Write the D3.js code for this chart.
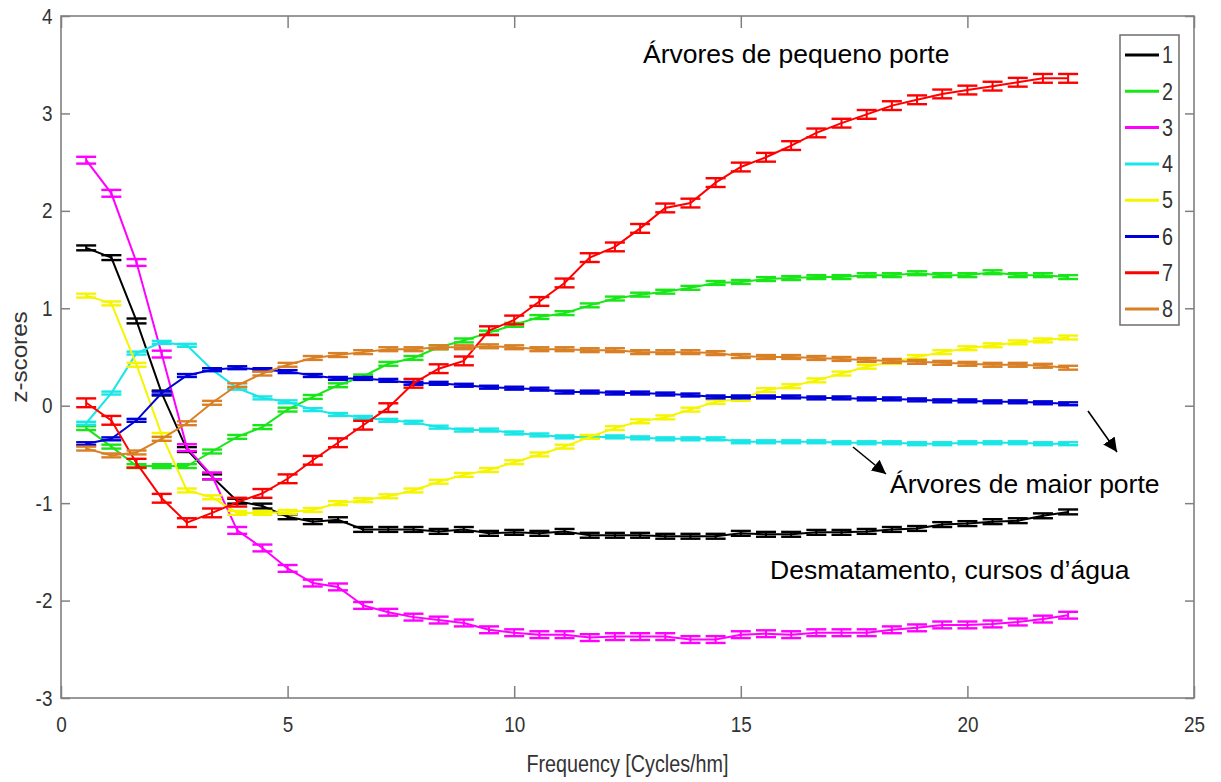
<!DOCTYPE html>
<html>
<head>
<meta charset="utf-8">
<script src="https://cdn.jsdelivr.net/npm/d3@7"></script>
<style>
  html, body { margin: 0; padding: 0; background: #fff; }
  svg { display: block; }
  text { font-family: "Liberation Sans", Arial, Helvetica, sans-serif; }
</style>
</head>
<body>
<svg id="chart" width="1221" height="782"></svg>
<script>
// ---------------- data ----------------
const pointIndex = d3.range(1, 41);            // 40 frequency samples
const frequencies = pointIndex.map(k => k / 1.8); // cycles/hm
const seriesNames = ["1", "2", "3", "4", "5", "6", "7", "8"];
const seriesColors = ["#000000", "#19e619", "#ff00ff", "#19e6e6", "#f5f500", "#0000d9", "#ff0000", "#d98026"];

const s1 = [1.62, 1.52, 0.87, 0.13, -0.45, -0.73, -0.98, -1.03, -1.14, -1.19, -1.17, -1.27, -1.27, -1.27, -1.29, -1.27, -1.31, -1.30, -1.31, -1.29, -1.33, -1.33, -1.33, -1.34, -1.34, -1.34, -1.31, -1.32, -1.32, -1.30, -1.30, -1.29, -1.27, -1.26, -1.22, -1.21, -1.19, -1.18, -1.13, -1.09];
const s2 = [-0.23, -0.42, -0.62, -0.62, -0.62, -0.47, -0.32, -0.22, -0.04, 0.09, 0.21, 0.30, 0.43, 0.49, 0.60, 0.67, 0.75, 0.83, 0.91, 0.95, 1.03, 1.10, 1.14, 1.17, 1.21, 1.26, 1.27, 1.30, 1.31, 1.32, 1.32, 1.34, 1.34, 1.36, 1.34, 1.34, 1.37, 1.34, 1.34, 1.32];
const s3 = [2.52, 2.18, 1.47, 0.53, -0.43, -0.72, -1.28, -1.46, -1.67, -1.82, -1.86, -2.05, -2.12, -2.17, -2.20, -2.23, -2.30, -2.33, -2.35, -2.35, -2.38, -2.37, -2.37, -2.37, -2.40, -2.40, -2.35, -2.34, -2.35, -2.33, -2.33, -2.33, -2.30, -2.28, -2.25, -2.25, -2.24, -2.22, -2.19, -2.15];
const s4 = [-0.18, 0.13, 0.54, 0.65, 0.62, 0.37, 0.18, 0.08, 0.04, -0.04, -0.09, -0.12, -0.15, -0.17, -0.22, -0.25, -0.25, -0.28, -0.30, -0.32, -0.32, -0.32, -0.33, -0.34, -0.34, -0.34, -0.37, -0.37, -0.37, -0.37, -0.38, -0.38, -0.38, -0.39, -0.39, -0.38, -0.38, -0.38, -0.39, -0.39];
const s5 = [1.13, 1.05, 0.42, -0.30, -0.87, -0.94, -1.10, -1.10, -1.09, -1.07, -1.00, -0.97, -0.93, -0.87, -0.78, -0.71, -0.66, -0.58, -0.50, -0.42, -0.32, -0.23, -0.16, -0.12, -0.04, 0.04, 0.07, 0.16, 0.20, 0.26, 0.33, 0.40, 0.45, 0.50, 0.55, 0.59, 0.62, 0.65, 0.67, 0.70];
const s6 = [-0.39, -0.34, -0.15, 0.13, 0.31, 0.37, 0.39, 0.37, 0.35, 0.31, 0.28, 0.28, 0.26, 0.23, 0.23, 0.21, 0.19, 0.18, 0.17, 0.14, 0.14, 0.13, 0.13, 0.12, 0.11, 0.09, 0.09, 0.09, 0.09, 0.08, 0.08, 0.07, 0.07, 0.06, 0.05, 0.05, 0.04, 0.04, 0.03, 0.02];
const s7 = [0.03, -0.15, -0.59, -0.95, -1.20, -1.10, -0.99, -0.90, -0.75, -0.56, -0.38, -0.20, -0.02, 0.23, 0.38, 0.46, 0.77, 0.88, 1.07, 1.26, 1.52, 1.63, 1.82, 2.03, 2.08, 2.29, 2.45, 2.55, 2.67, 2.80, 2.90, 2.99, 3.08, 3.14, 3.20, 3.24, 3.28, 3.32, 3.36, 3.36];
const s8 = [-0.44, -0.51, -0.48, -0.34, -0.18, 0.03, 0.21, 0.33, 0.42, 0.49, 0.52, 0.55, 0.58, 0.58, 0.60, 0.60, 0.61, 0.60, 0.58, 0.58, 0.57, 0.57, 0.55, 0.55, 0.55, 0.54, 0.51, 0.50, 0.50, 0.49, 0.48, 0.47, 0.46, 0.45, 0.44, 0.43, 0.42, 0.42, 0.41, 0.39];
const seriesValues = [s1, s2, s3, s4, s5, s6, s7, s8];
// standard error (half-height of error bar) per series
const seriesErrors = [0.025, 0.02, 0.035, 0.015, 0.02, 0.015, 0.045, 0.02];

const xTicks = [0, 5, 10, 15, 20, 25];
const yTicks = [-3, -2, -1, 0, 1, 2, 3, 4];

const annotations = [
  { text: "Árvores de pequeno porte", x: 643, y: 63 },
  { text: "Árvores de maior porte", x: 890, y: 493 },
  { text: "Desmatamento, cursos d’água", x: 770, y: 579 }
];
const arrows = [
  { x1: 853, y1: 447, x2: 886, y2: 474 },
  { x1: 1088, y1: 411, x2: 1117, y2: 452 }
];

// ---------------- layout ----------------
const svg = d3.select("#chart");
const L = 61, R = 1194, T = 16, B = 698;
const x = d3.scaleLinear().domain([0, 25]).range([L, R]);
const y = d3.scaleLinear().domain([-3, 4]).range([B, T]);
const axisColor = "#808080";
const textColor = "#333333";
const fmt = d => String(d);

svg.append("rect").attr("width", 1221).attr("height", 782).attr("fill", "#fff");

// ---------------- series ----------------
const line = d3.line().x(d => x(d[0])).y(d => y(d[1]));
const plot = svg.append("g");
seriesValues.forEach((vals, i) => {
  const color = seriesColors[i];
  const e = seriesErrors[i];
  const pts = vals.map((v, j) => [frequencies[j], v]);
  const g = plot.append("g");
  g.append("path").datum(pts).attr("d", line)
    .attr("fill", "none").attr("stroke", color).attr("stroke-width", 2);
  const eb = g.selectAll("g.eb").data(pts).join("g").attr("class", "eb");
  const cap = 10;
  eb.append("line")
    .attr("x1", d => x(d[0])).attr("x2", d => x(d[0]))
    .attr("y1", d => y(d[1] - e)).attr("y2", d => y(d[1] + e))
    .attr("stroke", color).attr("stroke-width", 2);
  [-1, 1].forEach(sgn => {
    eb.append("line")
      .attr("x1", d => x(d[0]) - cap).attr("x2", d => x(d[0]) + cap)
      .attr("y1", d => y(d[1] + sgn * e)).attr("y2", d => y(d[1] + sgn * e))
      .attr("stroke", color).attr("stroke-width", 2.4);
  });
});

// ---------------- axes ----------------
function styleAxis(g) {
  g.select(".domain").remove();
  g.selectAll(".tick line").attr("stroke", axisColor).attr("stroke-width", 1.5);
  g.selectAll(".tick text").attr("fill", textColor)
    .style("font-size", "22px");
}
const gx = svg.append("g").attr("transform", `translate(0,${B})`)
  .call(d3.axisBottom(x).tickValues(xTicks).tickSize(-12).tickPadding(18).tickFormat(fmt));
styleAxis(gx);
gx.selectAll(".tick text").attr("transform", "scale(0.86,1)");
const gxTop = svg.append("g").attr("transform", `translate(0,${T})`)
  .call(d3.axisTop(x).tickValues(xTicks).tickSize(-12).tickFormat(""));
styleAxis(gxTop);
const gy = svg.append("g").attr("transform", `translate(${L},0)`)
  .call(d3.axisLeft(y).tickValues(yTicks).tickSize(-9).tickPadding(10).tickFormat(fmt));
styleAxis(gy);
gy.selectAll(".tick text").attr("transform", "scale(0.86,1)");
const gyR = svg.append("g").attr("transform", `translate(${R},0)`)
  .call(d3.axisRight(y).tickValues(yTicks).tickSize(-9).tickFormat(""));
styleAxis(gyR);

svg.append("rect").attr("x", L).attr("y", T).attr("width", R - L).attr("height", B - T)
  .attr("fill", "none").attr("stroke", axisColor).attr("stroke-width", 1.6);

// axis titles
svg.append("text").attr("transform", `translate(${(L + R) / 2},772) scale(0.86,1)`)
  .attr("text-anchor", "middle").attr("fill", textColor).style("font-size", "23px")
  .text("Frequency [Cycles/hm]");
svg.append("text").attr("transform", `translate(27,${(T + B) / 2}) rotate(-90) scale(1.1,1)`)
  .attr("text-anchor", "middle").attr("fill", textColor).style("font-size", "22px")
  .text("z-scores");

// ---------------- legend ----------------
const lg = svg.append("g");
const lgX = 1120, lgY = 35, lgW = 59, lgH = 290, lgStep = 36.3, lgFirst = 55;
lg.append("rect").attr("x", lgX).attr("y", lgY).attr("width", lgW).attr("height", lgH)
  .attr("fill", "#fff").attr("stroke", "#6e6e6e").attr("stroke-width", 1.5);
const items = lg.selectAll("g.item").data(seriesNames).join("g").attr("class", "item")
  .attr("transform", (d, i) => `translate(${lgX},${lgFirst + i * lgStep})`);
items.append("line").attr("x1", 5).attr("x2", 39).attr("y1", 0).attr("y2", 0)
  .attr("stroke", (d, i) => seriesColors[i]).attr("stroke-width", 3);
items.append("text").attr("x", 0).attr("y", 0).attr("dy", "0.36em")
  .attr("transform", "translate(42,0) scale(0.86,1)")
  .attr("fill", textColor).style("font-size", "23px").text(d => d);

// ---------------- annotations ----------------
svg.append("defs").append("marker").attr("id", "arrowhead")
  .attr("viewBox", "0 0 10 10").attr("refX", 10).attr("refY", 5)
  .attr("markerWidth", 14).attr("markerHeight", 14).attr("markerUnits", "userSpaceOnUse")
  .attr("orient", "auto")
  .append("path").attr("d", "M0,0 L10,5 L0,10 z").attr("fill", "#000");
svg.selectAll("line.arrow").data(arrows).join("line").attr("class", "arrow")
  .attr("x1", d => d.x1).attr("y1", d => d.y1).attr("x2", d => d.x2).attr("y2", d => d.y2)
  .attr("stroke", "#000").attr("stroke-width", 1.6).attr("marker-end", "url(#arrowhead)");
svg.selectAll("text.ann").data(annotations).join("text").attr("class", "ann")
  .attr("x", d => d.x).attr("y", d => d.y).attr("fill", "#000")
  .style("font-size", "26.5px").text(d => d.text);
</script>
</body>
</html>
